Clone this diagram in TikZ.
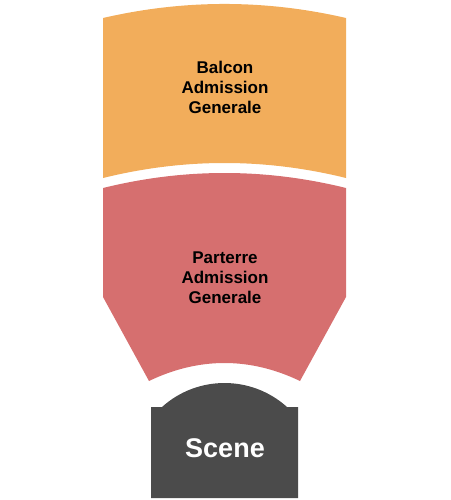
\documentclass[tikz,border=0pt]{standalone}
\usepackage{fontspec}
\setmainfont{Liberation Sans}
\definecolor{balconcol}{HTML}{F2AD5B}
\definecolor{parterrecol}{HTML}{D66F6F}
\definecolor{scenecol}{HTML}{4B4B4B}
\tikzset{
  zonelabel/.style={font=\bfseries\fontsize{17}{20}\selectfont, align=center, text=black},
  scenelabel/.style={font=\bfseries\fontsize{27}{30}\selectfont, text=white}
}
\begin{document}
\begin{tikzpicture}[x=1pt, y=-1pt]
\useasboundingbox (0,0) rectangle (450,500);
% balcon
\fill[balconcol] (103,18) .. controls (184,-0.7) and (265,-0.7) .. (346,18)
  -- (346,178) .. controls (265,158) and (184,158) .. (103,178) -- cycle;
% parterre
\fill[parterrecol] (103,188) .. controls (184,168) and (265,168) .. (346,188)
  -- (346,297) -- (300,381) .. controls (250,357) and (199,357) .. (149,381)
  -- (103,297) -- cycle;
% scene
\fill[scenecol] (151,498) -- (151,407) -- (162,407)
  .. controls (197.5,375) and (251.5,375) .. (287,407)
  -- (298,407) -- (298,498) -- cycle;
\node[zonelabel] (balcon) at (225,87) {Balcon\\Admission\\Generale};
\node[zonelabel] (parterre) at (225,278) {Parterre\\Admission\\Generale};
\node[scenelabel] (scene) at (225,448) {Scene};
\end{tikzpicture}
\end{document}
